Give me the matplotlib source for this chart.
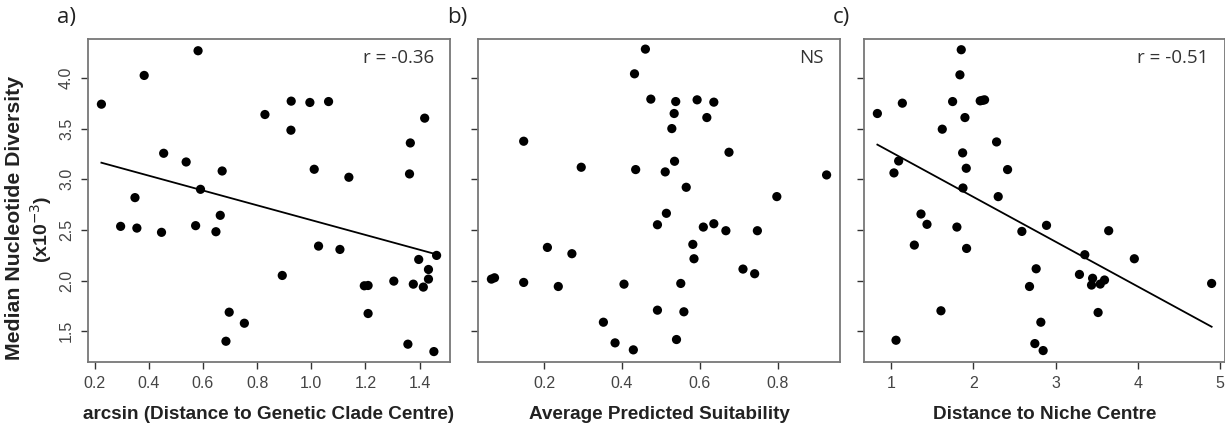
import numpy as np
import matplotlib
matplotlib.use('Agg')
import matplotlib.pyplot as plt

plt.rcParams['font.family'] = ['Liberation Sans', 'DejaVu Sans']

# Median nucleotide diversity (x10^-3) against three predictors
dist_clade = [0.225, 0.582, 0.383, 0.296, 0.349, 0.356, 0.447, 0.455, 0.538, 0.573,
              0.591, 0.648, 0.664, 0.671, 0.685, 0.697, 0.753, 0.829, 0.893, 0.925,
              0.926, 0.995, 1.011, 1.027, 1.064, 1.106, 1.139, 1.196, 1.210, 1.210,
              1.305, 1.357, 1.366, 1.363, 1.377, 1.397, 1.419, 1.433, 1.433, 1.414,
              1.463, 1.453]
div_clade = [3.742, 4.270, 4.026, 2.535, 2.819, 2.518, 2.476, 3.257, 3.171, 2.542,
             2.901, 2.482, 2.644, 3.082, 1.400, 1.687, 1.578, 3.640, 2.050, 3.485,
             3.772, 3.759, 3.099, 2.340, 3.768, 2.307, 3.020, 1.948, 1.951, 1.674,
             1.994, 1.371, 3.359, 3.053, 1.964, 2.208, 3.604, 2.109, 2.014, 1.935,
             2.248, 1.298]

suitability = [0.460, 0.432, 0.474, 0.538, 0.593, 0.636, 0.534, 0.618, 0.528, 0.147,
               0.675, 0.535, 0.295, 0.435, 0.511, 0.565, 0.798, 0.514, 0.491, 0.609,
               0.636, 0.667, 0.748, 0.208, 0.271, 0.582, 0.585, 0.711, 0.741, 0.064,
               0.072, 0.147, 0.236, 0.405, 0.551, 0.491, 0.559, 0.352, 0.382, 0.429,
               0.540, 0.926]
div_suit = [4.286, 4.042, 3.792, 3.768, 3.785, 3.762, 3.650, 3.610, 3.501, 3.376,
            3.267, 3.178, 3.119, 3.096, 3.073, 2.921, 2.829, 2.664, 2.551, 2.528,
            2.561, 2.492, 2.492, 2.327, 2.265, 2.357, 2.215, 2.113, 2.067, 2.014,
            2.027, 1.981, 1.941, 1.964, 1.971, 1.707, 1.691, 1.588, 1.384, 1.315,
            1.417, 3.043]

dist_niche = [1.851, 1.835, 0.830, 1.134, 1.746, 2.082, 2.135, 2.110, 1.896, 1.620,
              2.281, 1.868, 1.089, 1.032, 1.912, 2.415, 1.872, 2.301, 1.361, 1.434,
              1.798, 1.280, 1.916, 2.589, 2.889, 3.646, 3.355, 3.958, 2.763, 3.290,
              3.450, 3.437, 3.543, 3.595, 2.682, 4.899, 1.604, 3.517, 2.820, 1.057,
              2.747, 2.848]
div_niche = [4.280, 4.032, 3.650, 3.752, 3.768, 3.775, 3.785, 3.780, 3.610, 3.495,
             3.369, 3.261, 3.181, 3.063, 3.109, 3.096, 2.914, 2.829, 2.657, 2.555,
             2.528, 2.350, 2.317, 2.485, 2.545, 2.492, 2.255, 2.215, 2.116, 2.060,
             2.022, 1.955, 1.965, 2.005, 1.941, 1.971, 1.701, 1.684, 1.588, 1.410,
             1.377, 1.308]

panels = [
    ('a)', dist_clade, div_clade, 'arcsin (Distance to Genetic Clade Centre)',
     [0.2, 0.4, 0.6, 0.8, 1.0, 1.2, 1.4], 'r = -0.36', True),
    ('b)', suitability, div_suit, 'Average Predicted Suitability',
     [0.2, 0.4, 0.6, 0.8], 'NS', False),
    ('c)', dist_niche, div_niche, 'Distance to Niche Centre',
     [1, 2, 3, 4, 5], 'r = -0.51', True),
]
y_ticks = [1.5, 2.0, 2.5, 3.0, 3.5, 4.0]

lefts = [88, 478, 864]
widths = [362, 362, 361]

fig = plt.figure(figsize=(12.25, 4.24), dpi=100)

for i, (tag, x, y, xlabel, xticks, note, fit) in enumerate(panels):
    x = np.array(x)
    y = np.array(y)
    ax = fig.add_axes([lefts[i] / 1225, 62 / 424, widths[i] / 1225, 323 / 424])
    ax.scatter(x, y, s=44, color='black', edgecolors='none', zorder=3)
    if fit:
        slope, icpt = np.polyfit(x, y, 1)
        xs = np.array([x.min(), x.max()])
        ax.plot(xs, icpt + slope * xs, color='black', lw=1.3, zorder=2)

    # R-style 4% padding around data range
    xr = x.max() - x.min()
    ax.set_xlim(x.min() - 0.04 * xr, x.max() + 0.04 * xr)
    ax.set_ylim(1.195, 4.386)

    ax.set_xticks(xticks)
    ax.set_xticklabels([('%g' % t) if isinstance(t, int) else ('%.1f' % t) for t in xticks])
    ax.set_yticks(y_ticks)
    if i == 0:
        ax.set_yticklabels(['%.1f' % t for t in y_ticks], rotation=90, va='center')
    else:
        ax.set_yticklabels([])
    ax.tick_params(direction='out', length=5, width=1, color='#333333',
                   labelsize=11.5, labelcolor='#444444', pad=5)
    for sp in ax.spines.values():
        sp.set_color('#777777')
        sp.set_linewidth(1.3)

    ax.set_xlabel(xlabel, fontsize=13.6, fontweight='bold',
                  color='#222222', labelpad=11)
    ax.text(0.955, 0.94, note, transform=ax.transAxes, ha='right', va='center',
            fontsize=13.5, family='Open Sans', color='#333333')
    fig.text((lefts[i] - 31) / 1225, 1 - 17 / 424, tag, ha='left', va='center',
             fontsize=16, family='Open Sans', color='#222222')

fig.text(15 / 1225, 1 - 218 / 424, 'Median Nucleotide Diversity', rotation=90,
         ha='center', va='center', fontsize=15.3, fontweight='bold', color='#222222')
fig.text(41 / 1225, 1 - 229 / 424, '(x10$^{-3}$)', rotation=90,
         ha='center', va='center', fontsize=14, fontweight='bold', color='#222222')

fig.savefig('out.png', dpi=100)
